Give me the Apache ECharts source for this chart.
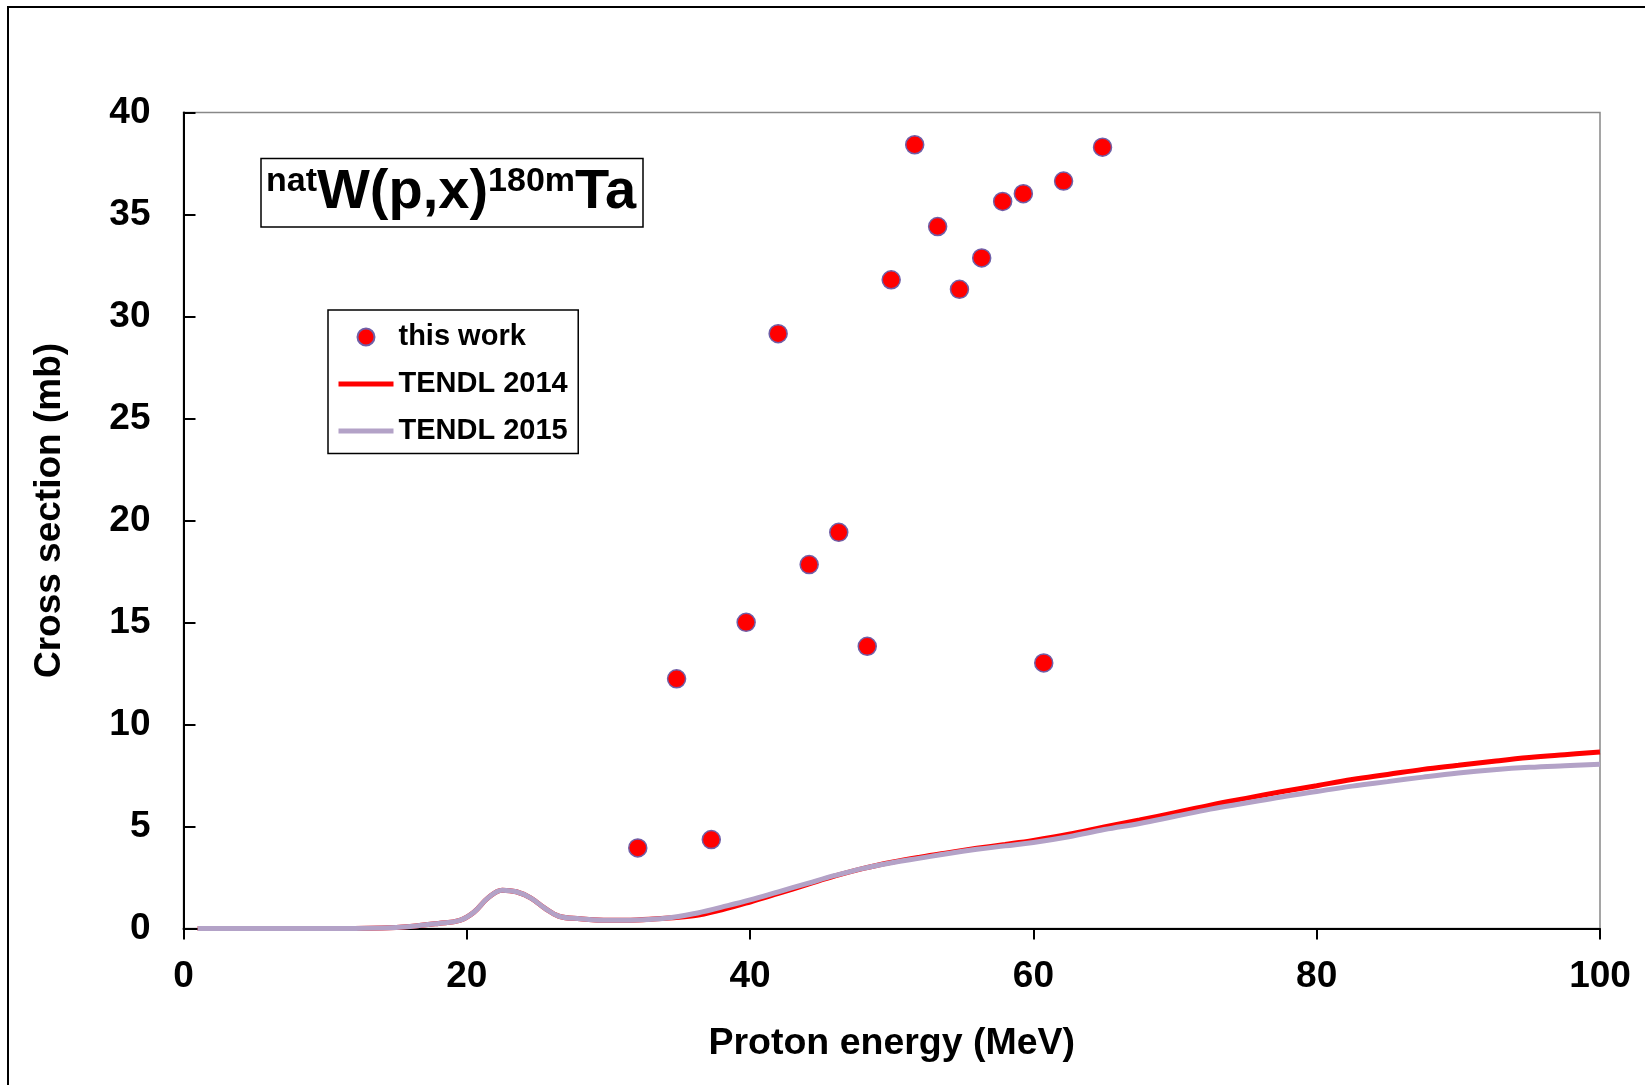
<!DOCTYPE html>
<html>
<head>
<meta charset="utf-8">
<script src="https://cdn.jsdelivr.net/npm/echarts@6/dist/echarts.min.js"></script>
<style>
  html, body { margin: 0; padding: 0; background: #fff; }
  #main { width: 1645px; height: 1085px; }
</style>
</head>
<body>
<div id="main"></div>
<script>
// measured points, this work
var expEnergy = [32.07, 34.81, 37.26, 39.72, 41.98, 44.17, 46.26, 48.27, 49.96, 51.62,
                 53.24, 54.78, 56.35, 57.83, 59.29, 60.73, 62.13, 64.88];
var expXs = [3.95, 12.24, 4.36, 15.01, 29.16, 17.84, 19.42, 13.83, 31.80, 38.42,
             34.41, 31.33, 32.87, 35.64, 36.02, 13.02, 36.64, 38.30];

// TENDL curves
var tendlEnergy = [1, 5, 10, 14, 16, 18, 19.5, 20.5, 21.5, 22.5, 23.5, 24.5, 25.5, 26.5, 28,
                   30, 32, 34, 36, 38, 40, 42, 44, 46, 48, 50, 52, 54, 56, 58, 60, 62.5, 65,
                   67.5, 70, 72.5, 75, 77.5, 80, 82.5, 85, 87.5, 90, 92.5, 95, 97.5, 100];
var tendl2014 = [0, 0, 0, 0.03, 0.1, 0.25, 0.4, 0.8, 1.5, 1.88, 1.8, 1.5, 1.0, 0.6, 0.48,
                 0.4, 0.42, 0.5, 0.62, 0.92, 1.3, 1.72, 2.15, 2.58, 2.95, 3.25, 3.5, 3.72, 3.93, 4.12, 4.32, 4.62, 4.98,
                 5.32, 5.68, 6.05, 6.38, 6.7, 7.0, 7.3, 7.55, 7.8, 8.0, 8.2, 8.38, 8.52, 8.65];
var tendl2015 = [0, 0, 0, 0.03, 0.1, 0.25, 0.4, 0.8, 1.5, 1.88, 1.8, 1.5, 1.0, 0.6, 0.48,
                 0.4, 0.42, 0.5, 0.72, 1.05, 1.4, 1.8, 2.2, 2.6, 2.95, 3.22, 3.45, 3.68, 3.88, 4.05, 4.22, 4.5, 4.85,
                 5.15, 5.5, 5.85, 6.15, 6.45, 6.72, 6.98, 7.2, 7.42, 7.62, 7.78, 7.9, 7.98, 8.05];

var seriesNames = ['this work', 'TENDL 2014', 'TENDL 2015'];

function pairs(xs, ys) {
  return xs.map(function (x, i) { return [x, ys[i]]; });
}

var font = "'Liberation Sans', Arial, sans-serif";
var labelStyle = { color: '#000', fontSize: 37, fontWeight: 'bold', fontFamily: font };

var chart = echarts.init(document.getElementById('main'));
var option = {
  backgroundColor: '#fff',
  animation: false,
  textStyle: { fontFamily: font },
  grid: {
    left: 183.5, right: 45, top: 112.5, bottom: 156.5,
    show: true, borderColor: '#888', borderWidth: 1.5,
    outerBoundsMode: 'none'
  },
  legend: {
    data: [
      { name: seriesNames[0], icon: 'circle' },
      { name: seriesNames[1], itemStyle: { opacity: 0 }, lineStyle: { width: 5, color: '#FF0000' } },
      { name: seriesNames[2], itemStyle: { opacity: 0 }, lineStyle: { width: 5, color: '#B3A2C7' } }
    ],
    orient: 'vertical',
    left: 328, top: 310,
    padding: [12.5, 10.5, 8, 8],
    itemGap: 18,
    itemWidth: 55,
    itemHeight: 17,
    borderColor: '#000',
    borderWidth: 1.5,
    backgroundColor: '#fff',
    selectedMode: false,
    textStyle: { color: '#000', fontSize: 29, fontWeight: 'bold', fontFamily: font }
  },
  xAxis: {
    type: 'value',
    min: 0, max: 100, interval: 20,
    name: 'Proton energy (MeV)',
    nameLocation: 'middle',
    nameGap: 96,
    nameTextStyle: Object.assign({}, labelStyle, { fontSize: 37.5 }),
    axisLine: { show: true, onZero: false, lineStyle: { color: '#000', width: 2 } },
    axisTick: { show: true, inside: false, length: 11, lineStyle: { color: '#000', width: 2 } },
    axisLabel: Object.assign({ margin: 30 }, labelStyle),
    splitLine: { show: false }
  },
  yAxis: {
    type: 'value',
    min: 0, max: 40, interval: 5,
    name: 'Cross section (mb)',
    nameLocation: 'middle',
    nameGap: 115,
    nameRotate: 90,
    nameTextStyle: Object.assign({ padding: [0, 0, 0, 20] }, labelStyle),
    axisLine: { show: true, onZero: false, lineStyle: { color: '#000', width: 2 } },
    axisTick: { show: true, inside: true, length: 12, lineStyle: { color: '#000', width: 2 } },
    axisLabel: Object.assign({ margin: 33 }, labelStyle),
    splitLine: { show: false }
  },
  graphic: [
    {
      type: 'rect',
      shape: { x: 8, y: 7, width: 1700, height: 1200 },
      style: { fill: 'none', stroke: '#000', lineWidth: 2 },
      silent: true
    },
    {
      type: 'rect',
      shape: { x: 261, y: 158.5, width: 382, height: 68.5 },
      style: { fill: '#fff', stroke: '#000', lineWidth: 1.5 },
      z: 10
    },
    {
      type: 'text',
      x: 266, y: 165,
      z: 11,
      style: {
        text: '{s|nat}{b|W(p,x)}{s|180m}{b|Ta}',
        verticalAlign: 'top',
        fill: '#000',
        rich: {
          s: { fontSize: 34, lineHeight: 34, fontWeight: 'bold', fontFamily: font, verticalAlign: 'top', fill: '#000' },
          b: { fontSize: 56, lineHeight: 56, fontWeight: 'bold', fontFamily: font, verticalAlign: 'bottom', fill: '#000' }
        }
      }
    }
  ],
  series: [
    {
      name: seriesNames[1],
      type: 'line',
      data: pairs(tendlEnergy, tendl2014),
      symbol: 'none',
      smooth: 0.4,
      lineStyle: { color: '#FF0000', width: 5 },
      itemStyle: { color: '#FF0000' },
      z: 2
    },
    {
      name: seriesNames[2],
      type: 'line',
      data: pairs(tendlEnergy, tendl2015),
      symbol: 'none',
      smooth: 0.4,
      lineStyle: { color: '#B3A2C7', width: 5 },
      itemStyle: { color: '#B3A2C7' },
      z: 3
    },
    {
      name: seriesNames[0],
      type: 'scatter',
      data: pairs(expEnergy, expXs),
      symbol: 'circle',
      symbolSize: 18,
      itemStyle: { color: '#FF0000', borderColor: '#6F5FA8', borderWidth: 1.5, opacity: 1 },
      z: 4
    }
  ]
};
chart.setOption(option);
</script>
</body>
</html>
